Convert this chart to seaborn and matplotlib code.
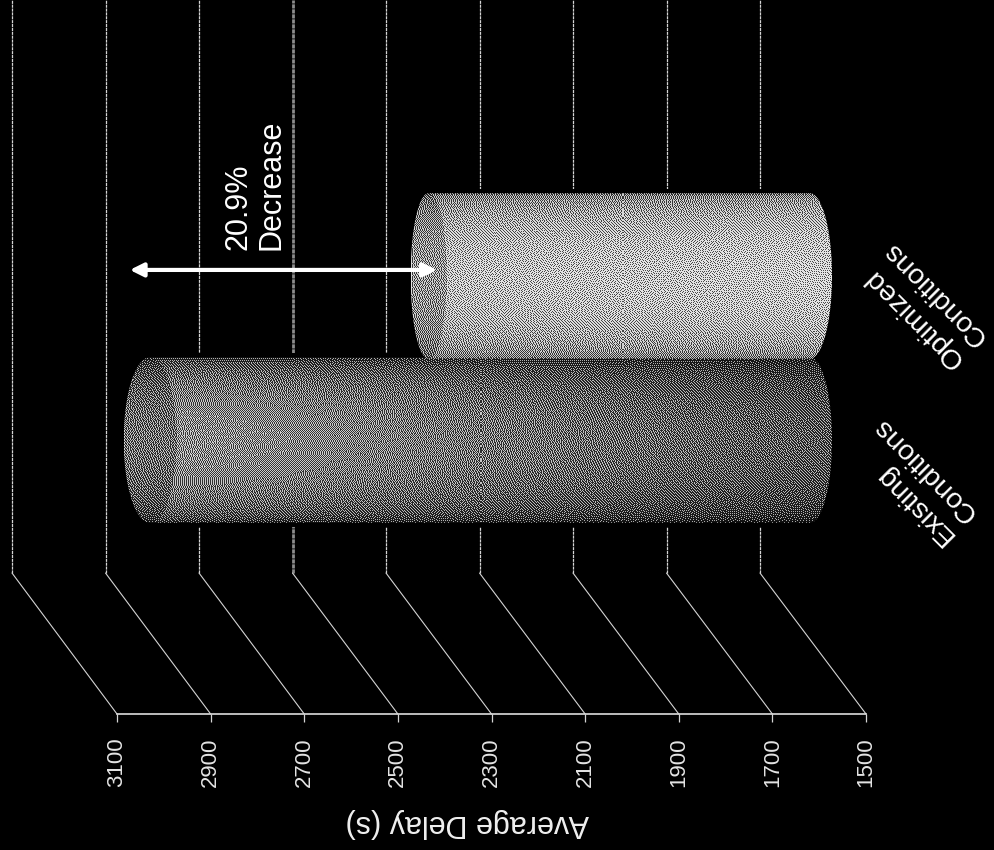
import numpy as np
import pandas as pd
import matplotlib
matplotlib.use("Agg")
import matplotlib.pyplot as plt
import seaborn as sns
from matplotlib.patches import ConnectionPatch, Polygon

# ---- data ----
categories = ["Existing\nConditions", "Optimized\nConditions"]
delays = [2910, 2315]
axis_ticks = [3100, 2900, 2700, 2500, 2300, 2100, 1900, 1700, 1500]
axis_title = "Average Delay (s)"
callout = "20.9%\nDecrease"
arrow_span = [2953, 2297]

# ---- styling / layout ----
W, H = 994, 850
BG = "#000000"
LINE = "#d4d4d4"
cap_depth = [56, 38]           # half-width of the end ellipse, in axis units
base_depth = 47
shade = [(0.20, 0.36, 0.38), (0.40, 0.30, -0.06)]  # edge, centre gain, fade to base
cap_gain = [0.78, 0.80]
label_offsets = [(151, -88), (161, -76)]  # pixels from bar base


def rect(left, right, top, bottom):
    return [left / W, 1 - bottom / H, (right - left) / W, (bottom - top) / H]


def dither(gray):
    """Floyd-Steinberg error diffusion to a stipple of black and white."""
    g = gray.copy()
    h, w = g.shape
    for r in range(h):
        for c in range(w):
            old = g[r, c]
            new = 1.0 if old >= 0.5 else 0.0
            g[r, c] = new
            e = old - new
            if c + 1 < w:
                g[r, c + 1] += e * 7 / 16
            if r + 1 < h:
                if c > 0:
                    g[r + 1, c - 1] += e * 3 / 16
                g[r + 1, c] += e * 5 / 16
                if c + 1 < w:
                    g[r + 1, c + 1] += e * 1 / 16
    return g


sns.set_theme(style="dark", rc={"figure.facecolor": BG, "axes.facecolor": "none",
                                "savefig.facecolor": BG, "axes.grid": False})
plt.rcParams["font.family"] = ["Liberation Sans", "DejaVu Sans"]

fig = plt.figure(figsize=(W / 100, H / 100), dpi=100)

vmin, vmax = min(axis_ticks), max(axis_ticks)

# back wall with the vertical gridlines
back = fig.add_axes(rect(12, 760, 0, 573), zorder=1)
back.set_xlim(vmax, vmin)
back.set_ylim(0, 1)
back.set_xticks(axis_ticks)
back.set_yticks([])
back.tick_params(length=0, labelbottom=False)
back.grid(True, axis="x", color=LINE, lw=0.9, ls=(0, (2.5, 0.6)))
for tick, gl in zip(axis_ticks, back.get_xgridlines()):
    gl.set_clip_on(False)
    if tick == 2500:
        gl.set_linewidth(2.0)
        gl.set_color("#8c8c8c")
        gl.set_linestyle((0, (1.5, 0.3)))
sns.despine(ax=back, left=True, bottom=True)

# front axis carrying the value scale
front = fig.add_axes(rect(117, 866, 704, 714), zorder=2)
front.set_xlim(vmax, vmin)
front.set_ylim(0, 1)
front.set_xticks(axis_ticks)
front.set_xticklabels([str(t) for t in axis_ticks], rotation=90, fontsize=16, color="#e4e4e4")
front.set_yticks([])
front.tick_params(axis="x", length=5.8, width=0.9, color=LINE, pad=11, bottom=True)
for side in ("top", "left", "right"):
    front.spines[side].set_visible(False)
front.spines["bottom"].set_color("#dddddd")
front.spines["bottom"].set_linewidth(1.2)
front.set_xlabel(axis_title, rotation=180, fontsize=22, color="#f0f0f0", x=0.468, labelpad=15)

# connectors between wall and front axis
for t in axis_ticks:
    fig.add_artist(ConnectionPatch(
        xyA=(t, 0), coordsA=back.get_xaxis_transform(),
        xyB=(t, 0), coordsB=front.get_xaxis_transform(),
        color=LINE, lw=0.8, zorder=1.5))

# middle plane with the cylinders: same scale as the axis
scale = 749 / (vmax - vmin)
mid = fig.add_axes(rect(61, 860, 112, 604), zorder=3)
df = pd.DataFrame({"condition": categories, "delay": delays})
sns.barplot(data=df, y="condition", x="delay", order=categories, orient="h",
            color="#888888", width=1.01, ax=mid)
mid.set_xlim(vmax, vmax - 799 / scale)
mid.set_ylim(-1, 2)
mid.axis("off")
fig.canvas.draw()

for i, patch in enumerate(list(mid.patches)):
    value = patch.get_width()
    y0 = patch.get_y()
    y1 = y0 + patch.get_height()
    yc = (y0 + y1) / 2
    hh = (y1 - y0) / 2
    th = np.linspace(-np.pi / 2, np.pi / 2, 80)
    cap = np.column_stack([value + cap_depth[i] * np.cos(th), yc + hh * np.sin(th)])
    base = np.column_stack([vmin - base_depth * np.cos(th[::-1]), yc + hh * np.sin(th[::-1])])
    outline = Polygon(np.vstack([cap, base]), closed=True, transform=mid.transData,
                      facecolor=BG, edgecolor=BG, lw=6, zorder=1)
    mid.add_patch(outline)
    patch.set_visible(False)

    x_left = value + cap_depth[i]
    x_right = vmin - base_depth
    p0 = mid.transData.transform((x_left, y1))
    p1 = mid.transData.transform((x_right, y0))
    nx = int(round(abs(p1[0] - p0[0])))
    ny = int(round(abs(p1[1] - p0[1])))
    xs = np.linspace(x_left, x_right, nx)
    ys = np.linspace(y1, y0, ny)
    X, Y = np.meshgrid(xs, ys)
    s = np.clip((Y - yc) / hh, -1, 1)
    prof = np.sqrt(1 - s ** 2)
    frac = (x_left - X) / (x_left - x_right)
    edge, gain, fade = shade[i]
    gray = (edge + gain * prof) * (1 - fade * frac)
    in_cap = ((X - value) / cap_depth[i]) ** 2 + s ** 2 <= 1
    gray = np.where(in_cap, gray * cap_gain[i], gray)
    tex = 0.6 * dither(gray) + 0.4 * gray
    img = mid.imshow(tex, extent=(x_left, x_right, y0, y1), origin="upper",
                     cmap="gray", vmin=0, vmax=1, interpolation="nearest",
                     aspect="auto", zorder=2)
    clip = Polygon(np.vstack([cap, base]), closed=True, transform=mid.transData)
    img.set_clip_path(clip)

    mid.annotate(categories[i], xy=(vmin, i), xycoords="data",
                 xytext=label_offsets[i], textcoords="offset pixels",
                 rotation=135, rotation_mode="anchor", ha="left", va="center",
                 multialignment="left", fontsize=20.5, color="white",
                 linespacing=1.3, annotation_clip=False)

mid.set_xlim(vmax, vmax - 799 / scale)
mid.set_ylim(-1, 2)

# decrease callout
mid.annotate("", xy=(arrow_span[0], 1.037), xytext=(arrow_span[1], 1.037),
             arrowprops=dict(arrowstyle="<|-|>", color="white", lw=3,
                             mutation_scale=20, shrinkA=0, shrinkB=0), zorder=5)
mid.text(2685, 1.16, callout, rotation=90, rotation_mode="anchor", ha="left", va="center",
         multialignment="left", fontsize=22, color="white", linespacing=1.15, zorder=5)

fig.savefig("out.png", dpi=100, facecolor=BG)
